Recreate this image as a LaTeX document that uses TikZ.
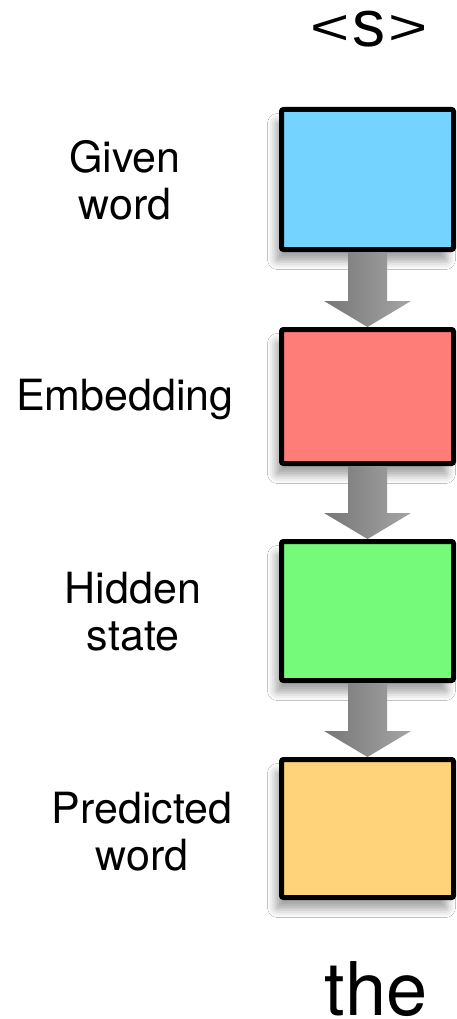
\documentclass[tikz,border=0pt]{standalone}
\usepackage{fontspec}
\setmainfont{TeX Gyre Heros}
\newfontfamily\arialf{Liberation Sans}
\usetikzlibrary{calc,shadows.blur}
\definecolor{cblue}{RGB}{116,211,255}
\definecolor{cred}{RGB}{255,125,120}
\definecolor{cgreen}{RGB}{118,250,122}
\definecolor{corange}{RGB}{254,211,122}
\definecolor{arrowdark}{RGB}{118,118,118}
\definecolor{arrowlight}{RGB}{165,165,165}
\newcommand{\widelt}[1]{{\fontsize{64}{64}\selectfont\raisebox{2pt}{\scalebox{1.05}[0.78]{#1}}}}
\begin{document}
\begin{tikzpicture}[x=1pt,y=-1pt,
  box/.style={draw=black, line width=5pt, rounded corners=2pt, minimum width=172pt, inner sep=0pt,
    blur shadow={shadow xshift=-6pt, shadow yshift=-12pt, shadow blur radius=8pt, shadow opacity=35}},
  lbl/.style={font=\fontsize{43}{47}\selectfont, align=center, inner sep=0pt},
  big/.style={font=\fontsize{74}{80}\selectfont, inner sep=0pt, text depth=0pt},
  flow/.style={left color=arrowdark, right color=arrowlight, draw=none}]
\useasboundingbox (0,0) rectangle (456,1019);
\fill[white] (0,0) rectangle (456,1019);

\node[box, fill=cblue,   minimum height=140pt] (b1) at (367.5,179.5) {};
\node[box, fill=cred,    minimum height=134pt] (b2) at (367.5,396.5) {};
\node[box, fill=cgreen,  minimum height=139pt] (b3) at (367.5,611) {};
\node[box, fill=corange, minimum height=138pt] (b4) at (367.5,828.5) {};

\foreach \a/\b in {b1/b2, b2/b3, b3/b4}{
  \path[flow] ($(\a.south)+(-19.5,0)$) -- ($(\a.south)+(19.5,0)$)
    -- ($(\b.north)+(19.5,-26)$) -- ($(\b.north)+(43.5,-26)$) -- (\b.north)
    -- ($(\b.north)+(-43.5,-26)$) -- ($(\b.north)+(-19.5,-26)$) -- cycle;
}

\node[lbl] (l1) at (125,180) {Given\\word};
\node[lbl] (l2) at (125,400) {Embedding};
\node[lbl] (l3) at (133,612) {Hidden\\state};
\node[lbl] (l4) at (142,832) {Predicted\\word};

\node[big, anchor=base, text height=37pt] (in) at (369,47)
  {\arialf\fontsize{66}{70}\selectfont\widelt{<}\kern3pt s\kern3pt\widelt{>}};
\node[big, anchor=base, text height=54pt] (out) at (376,1015) {the};
\end{tikzpicture}
\end{document}
